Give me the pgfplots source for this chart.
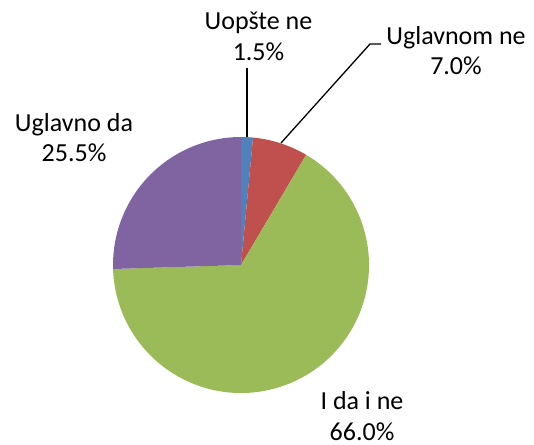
\documentclass[border=0pt]{standalone}
\usepackage{pgfplots}
\pgfplotsset{compat=1.18}
\usepackage{fontspec}
\setmainfont{Carlito}
\definecolor{c1}{HTML}{4F81BD}
\definecolor{c2}{HTML}{C0504D}
\definecolor{c3}{HTML}{9BBB59}
\definecolor{c4}{HTML}{8064A2}
\begin{document}
\begin{tikzpicture}
\begin{axis}[
  width=534pt, height=444pt, scale only axis,
  xmin=0, xmax=534, ymin=0, ymax=444,
  hide axis, clip=false,
]
\path[use as bounding box] (axis cs:0,0) rectangle (axis cs:534,444);
% values (percent): Uopste ne 1.5, Uglavnom ne 7.0, I da i ne 66.0, Uglavno da 25.5
\def\cx{241}\def\cy{179}\def\R{128}
\pgfmathsetmacro{\start}{90}
\foreach \v/\col in {1.5/c1, 7.0/c2, 66.0/c3, 25.5/c4}{
  \pgfmathsetmacro{\en}{\start-3.6*\v}
  \edef\temp{\noexpand\fill[\col] (axis cs:\cx,\cy) -- ++(\start:\R pt) arc[start angle=\start, end angle=\en, radius=\R pt] -- cycle;}
  \temp
  \global\let\start\en
}
\draw[black, line width=1.3pt] (axis cs:247,376) -- (axis cs:247,307);
\draw[black, line width=1.3pt] (axis cs:381,400) -- (axis cs:370,400) -- (axis cs:281,301);
\begin{scope}[every node/.style={font=\fontsize{26}{31}\selectfont, anchor=base, inner sep=0pt}]
\node at (axis cs:258.5,414) {Uopšte ne};
\node at (axis cs:258.5,383) {1.5\%};
\node at (axis cs:456,399) {Uglavnom ne};
\node at (axis cs:456,369) {7.0\%};
\node at (axis cs:74,312) {Uglavno da};
\node at (axis cs:74,282) {25.5\%};
\node at (axis cs:362,35) {I da i ne};
\node at (axis cs:362,4) {66.0\%};
\end{scope}
\end{axis}
\end{tikzpicture}
\end{document}
